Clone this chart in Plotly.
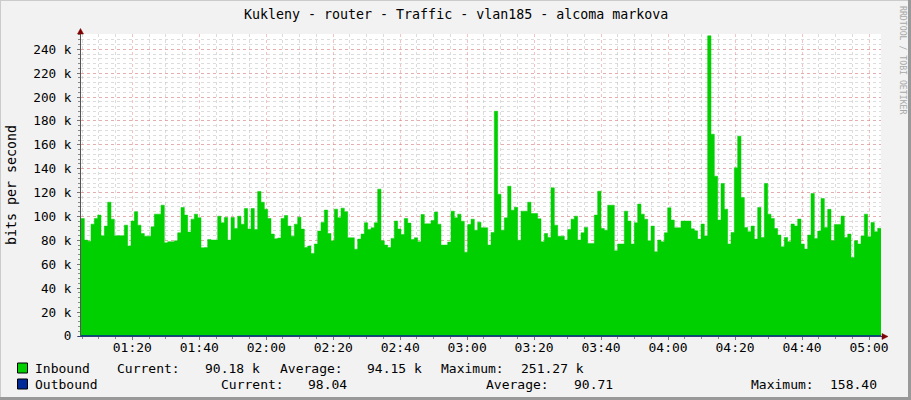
import datetime as dt
import plotly.graph_objects as go

# ---------------- data ----------------
title_text = "Kukleny - router - Traffic - vlan185 - alcoma markova"

# inbound traffic, kbit/s, one value per minute
inbound_k = [
    98.4, 80.3, 79.4, 93.6, 98.4, 101.2, 83.9, 92, 112, 97.8, 84, 84, 84, 92.8, 75.3, 96.2,
    104, 92.8, 85.8, 83.6, 83.6, 91.4, 102, 102, 109.5, 78, 78.9, 78.9, 79.7, 86.4, 107.6, 101.2,
    87, 97.8, 102, 99, 73.9, 74, 80.8, 80.3, 80.3, 100.3, 94.8, 99.2, 80.3, 99.2, 90, 100.3,
    93.6, 106.7, 89.5, 106.7, 89.2, 121, 112, 106.2, 98.4, 85.3, 81.4, 82, 98.4, 100.9, 92, 83.6,
    93.6, 99.5, 89.5, 74.1, 75.3, 69.1, 77, 87.8, 95, 105.4, 85.8, 79.7, 106.2, 99, 107, 104,
    82.2, 82.2, 72.7, 81.1, 85.3, 94.8, 89.2, 90.6, 94.8, 122.9, 79.7, 76.1, 74.1, 81.7, 96.2, 89.5,
    85, 98.4, 94.5, 80.8, 82.2, 78.8, 101.7, 93.9, 93.9, 96.7, 103.7, 93.6, 76.1, 76.1, 78.6, 104.5,
    98.9, 102, 96.1, 70.2, 93.3, 97.8, 88.6, 95.3, 90.6, 90.6, 76.1, 86.6, 188.1, 118.7, 88.6, 98.9,
    125.4, 105.3, 107.8, 80.2, 104.5, 104.5, 112, 102.5, 102.5, 98.1, 78.8, 85.8, 82.5, 124, 92.8, 83.6,
    83.6, 80.3, 89.2, 97.8, 100.3, 80.3, 86.4, 90.9, 77.5, 77.5, 101.2, 121.2, 90, 88.6, 109.5, 109.5,
    71.4, 77, 77, 104.5, 96.2, 77, 94.8, 110.4, 102, 97.8, 79.7, 92, 70.5, 80.3, 78.9, 86.4,
    107.3, 97, 90.6, 90.6, 96.2, 96.2, 96.2, 89.7, 88, 81.1,
    93.7, 83.7, 251.27, 168.9, 133.8, 97, 127.7, 106.2, 77, 86.7, 140.8, 167.3, 116, 90.9, 87.3, 92,
    81.1, 107.6, 82.5, 127.7, 102, 98.4, 90, 84.5, 74.7, 82.5, 79, 93.7, 92, 97.9, 77, 72.8,
    84.5, 119.3, 81.7, 87.8, 115.1, 90.9, 106, 79.8, 93.4, 93.4, 100.4, 82.5, 85.3, 65.8, 79.8, 77,
    83.7, 102, 83.1, 95.1, 87.3, 90.18,
]

# outbound traffic, bit/s (tiny, sits on the axis), one value per 10 minutes
outbound_b = [88.2, 92.5, 85.1, 90.4, 158.4, 95.3, 87.6, 91.2, 84.9, 93.7, 89.5, 86.3,
              94.1, 90.8, 88.4, 92.9, 87.1, 96.5, 89.9, 85.7, 91.6, 93.2, 88.8, 98.04]

y_tick_vals = [0, 20000, 40000, 60000, 80000, 100000, 120000, 140000, 160000, 180000, 200000, 220000, 240000]
y_tick_text = ["0", "20 k", "40 k", "60 k", "80 k", "100 k", "120 k", "140 k", "160 k", "180 k", "200 k", "220 k", "240 k"]

legend_rows = [
    # name, colour, [(label, x_px), ...]
    ("Inbound", "#00CF00", [("Current:", 116), ("90.18 k", 204), ("Average:", 279), ("94.15 k", 366),
                            ("Maximum:", 440), ("251.27 k", 520)]),
    ("Outbound", "#002A97", [("Current:", 220), ("98.04", 307), ("Average:", 485), ("90.71", 573),
                             ("Maximum:", 750), ("158.40", 829)]),
]

# ---------------- geometry ----------------
W, H = 911, 400
L, T, PW, PH = 81, 34, 800, 302
B = H - T - PH
FONT = "DejaVu Sans Mono"

t0 = dt.datetime(2024, 1, 1, 1, 4, 41)
span = dt.timedelta(minutes=238.9)
t1 = t0 + span
n = len(inbound_k)
step = span / n

def pxx(x):
    return (x - L) / PW

def pxy(y):
    return (T + PH - y) / PH

# ---------------- traces ----------------
xs = [t0 + i * step for i in range(n)] + [t0 + n * step]
ys = [v * 1000 for v in inbound_k] + [inbound_k[-1] * 1000]

fig = go.Figure()
fig.add_trace(go.Scatter(
    x=xs, y=ys, mode="lines", line=dict(shape="hv", width=0.5, color="#00CF00"),
    fill="tozeroy", fillcolor="#00CF00", hoverinfo="skip", showlegend=False,
))
ostep = span / len(outbound_b)
ox = [t0 + i * ostep for i in range(len(outbound_b))] + [t1]
oy = list(outbound_b) + [outbound_b[-1]]
fig.add_trace(go.Scatter(
    x=ox, y=oy, mode="lines", line=dict(shape="hv", width=1.2, color="#002A97"),
    hoverinfo="skip", showlegend=False,
))

# ---------------- shapes ----------------
shapes = []
# outer border (rrdtool shading)
shapes.append(dict(type="line", xref="paper", yref="paper", x0=pxx(0), x1=pxx(W), y0=pxy(0.5), y1=pxy(0.5),
                   line=dict(color="#CBCBCB", width=1)))
shapes.append(dict(type="line", xref="paper", yref="paper", x0=pxx(0.5), x1=pxx(0.5), y0=pxy(0), y1=pxy(H),
                   line=dict(color="#CBCBCB", width=1)))
shapes.append(dict(type="line", xref="paper", yref="paper", x0=pxx(0), x1=pxx(W), y0=pxy(H - 1.5), y1=pxy(H - 1.5),
                   line=dict(color="#999999", width=3)))
shapes.append(dict(type="line", xref="paper", yref="paper", x0=pxx(W - 1.5), x1=pxx(W - 1.5), y0=pxy(0), y1=pxy(H),
                   line=dict(color="#999999", width=3)))
# axes with arrows
shapes.append(dict(type="line", xref="paper", yref="paper", x0=pxx(80.5), x1=pxx(80.5), y0=pxy(337), y1=pxy(32),
                   line=dict(color="#555555", width=1)))
shapes.append(dict(type="line", xref="paper", yref="paper", x0=pxx(78), x1=pxx(884), y0=pxy(336.5), y1=pxy(336.5),
                   line=dict(color="#2C3E7A", width=1)))
shapes.append(dict(type="path", xref="paper", yref="paper",
                   path="M %f %f L %f %f L %f %f Z" % (pxx(77.5), pxy(34), pxx(83.5), pxy(34), pxx(80.5), pxy(28.5)),
                   fillcolor="#7F0000", line=dict(color="#7F0000", width=0.5)))
shapes.append(dict(type="path", xref="paper", yref="paper",
                   path="M %f %f L %f %f L %f %f Z" % (pxx(882), pxy(333.5), pxx(882), pxy(339.5), pxx(888), pxy(336.5)),
                   fillcolor="#7F0000", line=dict(color="#7F0000", width=0.5)))

# ---------------- annotations ----------------
ann = []
ann.append(dict(text=title_text, xref="paper", yref="paper", x=pxx(W / 2), y=pxy(14), xanchor="center",
                yanchor="middle", showarrow=False, font=dict(family=FONT, size=13.3, color="#000000")))
ann.append(dict(text="bits per second", xref="paper", yref="paper", x=pxx(11), y=pxy(185), xanchor="center",
                yanchor="middle", textangle=-90, showarrow=False, font=dict(family=FONT, size=13.3, color="#000000")))
ann.append(dict(text="RRDTOOL / TOBI OETIKER", xref="paper", yref="paper", x=pxx(902.5), y=pxy(60.5),
                xanchor="center", yanchor="middle", textangle=90, showarrow=False,
                font=dict(family=FONT, size=8.2, color="#A8A8A8")))

row_y = [368, 384]
for (name, colour, items), ry in zip(legend_rows, row_y):
    shapes.append(dict(type="rect", xref="paper", yref="paper", x0=pxx(17.5), x1=pxx(27.5),
                       y0=pxy(ry - 5), y1=pxy(ry + 5), fillcolor=colour, line=dict(color="#000000", width=1)))
    ann.append(dict(text=name, xref="paper", yref="paper", x=pxx(33), y=pxy(ry), xanchor="left",
                    yanchor="middle", showarrow=False, font=dict(family=FONT, size=13, color="#000000")))
    for label, xp in items:
        ann.append(dict(text=label, xref="paper", yref="paper", x=pxx(xp - 1), y=pxy(ry), xanchor="left",
                        yanchor="middle", showarrow=False, font=dict(family=FONT, size=13, color="#000000")))

# ---------------- layout ----------------
MAJOR = "rgba(240,110,110,0.42)"
MINOR = "rgba(185,185,185,0.5)"
fig.update_layout(
    width=W, height=H, autosize=False,
    margin=dict(l=L, r=W - L - PW, t=T, b=B, pad=0),
    paper_bgcolor="#F2F2F2", plot_bgcolor="#FFFFFF",
    font=dict(family=FONT, size=13, color="#000000"),
    shapes=shapes, annotations=ann,
    xaxis=dict(
        type="date", range=[t0, t1], tickformat="%H:%M",
        tick0=dt.datetime(2024, 1, 1, 1, 0), dtick=20 * 60 * 1000,
        showgrid=True, gridcolor=MAJOR, griddash="dot", gridwidth=1,
        ticks="outside", ticklen=3, tickcolor="#777777",
        tickfont=dict(family=FONT, size=13, color="#000000"),
        ticklabelstandoff=-4,
        minor=dict(dtick=5 * 60 * 1000, tick0=dt.datetime(2024, 1, 1, 1, 0), showgrid=True,
                   gridcolor=MINOR, griddash="dot", gridwidth=1,
                   ticks="outside", ticklen=2, tickcolor="#888888"),
        showline=False, zeroline=False, fixedrange=True,
    ),
    yaxis=dict(
        range=[0, 252800], tickmode="array", tickvals=y_tick_vals, ticktext=y_tick_text,
        showgrid=True, gridcolor=MAJOR, griddash="dot", gridwidth=1,
        ticks="outside", ticklen=3, tickcolor="#777777",
        tickfont=dict(family=FONT, size=12.7, color="#000000"),
        ticklabelstandoff=3,
        minor=dict(dtick=4000, tick0=0, showgrid=True, gridcolor=MINOR,
                   griddash="dot", gridwidth=1, ticks="outside", ticklen=2, tickcolor="#888888"),
        showline=False, zeroline=False, fixedrange=True,
    ),
)

fig.write_html("out.html", config={"displayModeBar": False, "staticPlot": True},
               post_script="document.body.style.margin='0';document.body.style.overflow='hidden';")
